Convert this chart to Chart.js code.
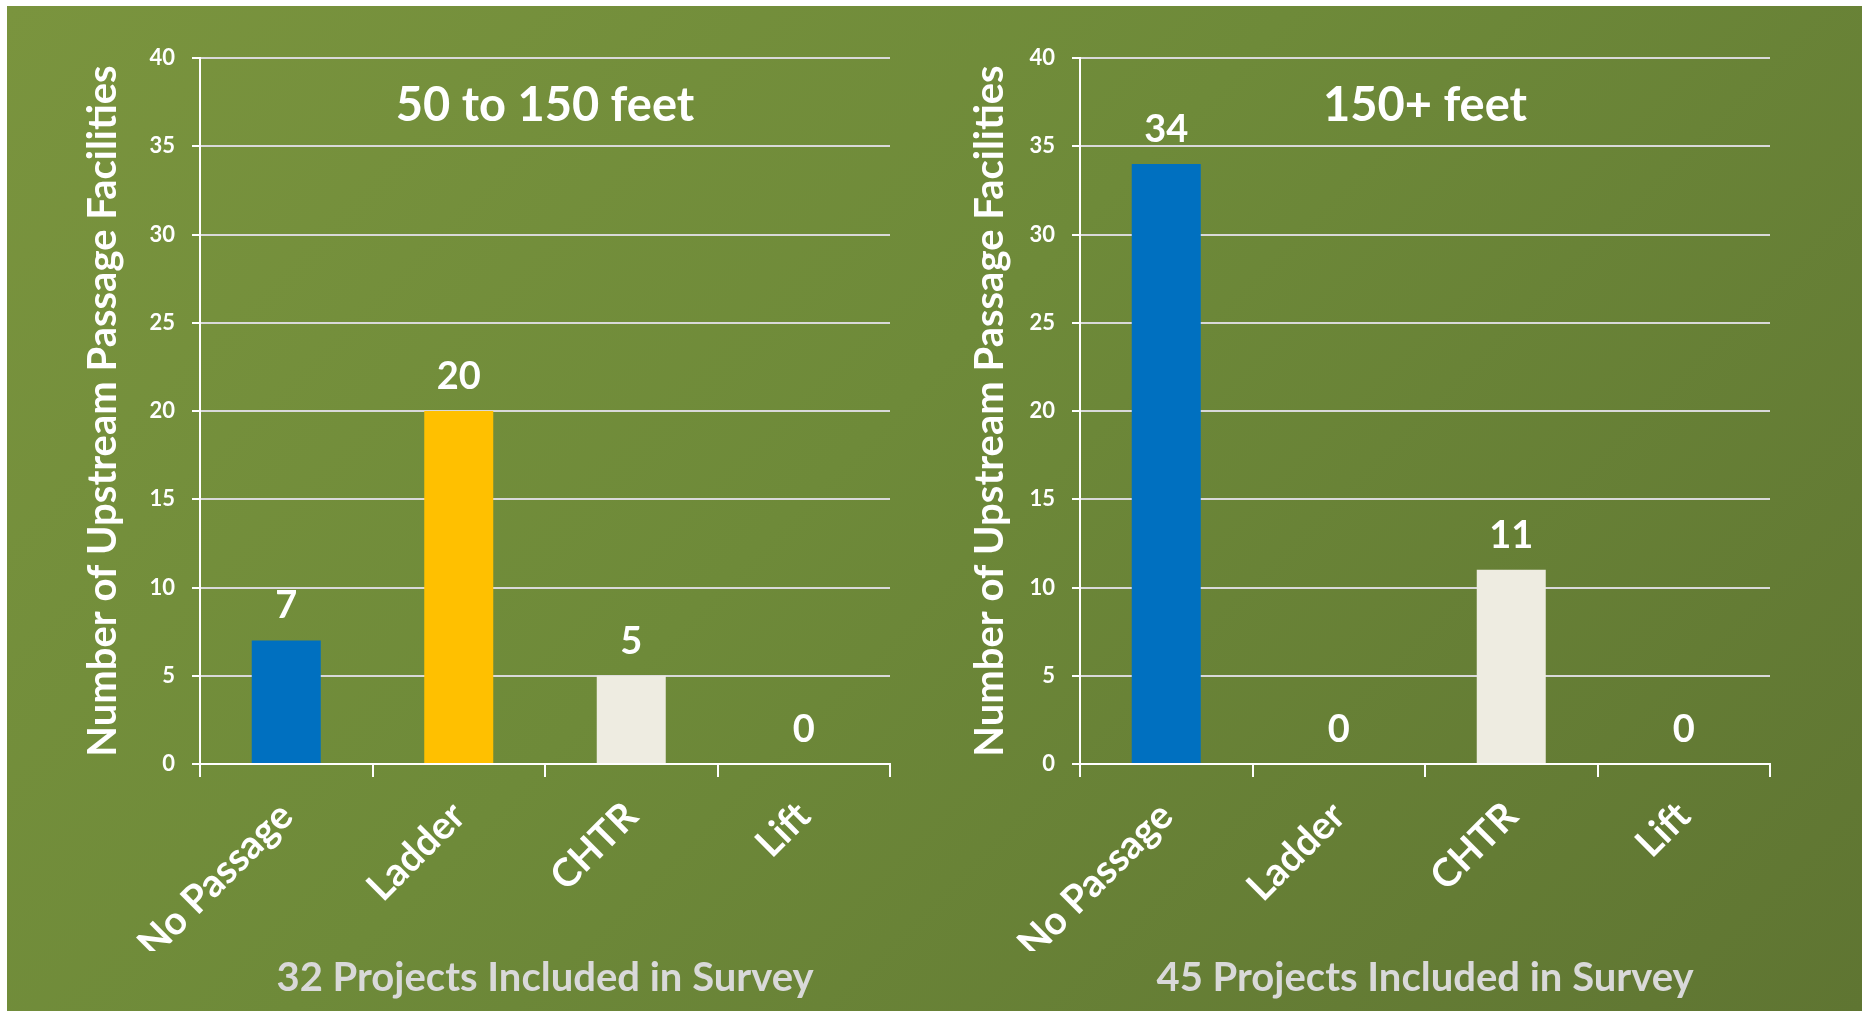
<!DOCTYPE html>
<html>
<head>
<meta charset="utf-8">
<script src="https://cdn.jsdelivr.net/npm/chart.js@4.4.1/dist/chart.umd.min.js"></script>
<style>
  body { margin: 0; background: #ffffff; width: 1865px; height: 1011px; overflow: hidden; }
  #panel {
    position: absolute; left: 7px; top: 6px; width: 1855px; height: 1005px;
    background: linear-gradient(135deg, #7a943e 0%, #6e8a39 45%, #5f7532 100%);
  }
  canvas { position: absolute; top: 0; }
  #left { left: 0; }
  #right { left: 880px; }
</style>
</head>
<body>
<div id="panel">
  <canvas id="left" width="930" height="1005"></canvas>
  <canvas id="right" width="930" height="1005"></canvas>
</div>
<script>
  const categories = ["No Passage", "Ladder", "CHTR", "Lift"];
  const counts50to150 = [7, 20, 5, 0];
  const counts150plus = [34, 0, 11, 0];
  const barColors = ["#0070c0", "#ffc000", "#eeece1", "#eeece1"];
  const yMin = 0, yMax = 40, yStep = 5;

  const FONT = "Lato";

  // value labels above each bar
  const valueLabels = {
    id: "valueLabels",
    afterDatasetsDraw(chart) {
      const ctx = chart.ctx;
      const meta = chart.getDatasetMeta(0);
      const data = chart.data.datasets[0].data;
      ctx.save();
      ctx.fillStyle = "#ffffff";
      ctx.font = "bold 38px " + FONT;
      ctx.textAlign = "center";
      ctx.textBaseline = "alphabetic";
      meta.data.forEach((bar, i) => {
        ctx.fillText(String(data[i]), bar.x, bar.y - 22);
      });
      ctx.restore();
    }
  };

  // heading inside the plot area and the footer line under the axis
  const headings = {
    id: "headings",
    afterDraw(chart, args, opts) {
      const ctx = chart.ctx;
      const a = chart.chartArea;
      const cx = (a.left + a.right) / 2;
      ctx.save();
      ctx.textAlign = "center";
      ctx.textBaseline = "middle";
      ctx.fillStyle = "#ffffff";
      ctx.font = "bold 47px " + FONT;
      ctx.fillText(opts.text, cx, 100);
      ctx.fillStyle = "#d9d9d9";
      ctx.font = "bold 40px " + FONT;
      ctx.fillText(opts.footer, cx, 972);
      ctx.restore();
    }
  };

  function makeChart(id, values, heading, footer, titlePad) {
    return new Chart(document.getElementById(id), {
      type: "bar",
      data: {
        labels: categories,
        datasets: [{
          data: values,
          backgroundColor: barColors,
          categoryPercentage: 1,
          barPercentage: 0.4
        }]
      },
      plugins: [valueLabels, headings],
      options: {
        responsive: false,
        animation: false,
        layout: { padding: { left: 0, right: 47, top: 52, bottom: 60 } },
        plugins: {
          legend: { display: false },
          tooltip: { enabled: false },
          headings: { text: heading, footer: footer }
        },
        scales: {
          x: {
            afterFit: s => { s.height = 187; },
            grid: {
              display: true, drawOnChartArea: false, drawTicks: true,
              tickLength: 13, color: "#ffffff", lineWidth: 2
            },
            border: { color: "#ffffff", width: 2 },
            ticks: {
              color: "#ffffff", maxRotation: 45, minRotation: 45, padding: 16,
              font: { family: FONT, size: 39, weight: "bold" }
            }
          },
          y: {
            min: yMin, max: yMax,
            afterFit: s => { s.width = 193; },
            grid: { color: "#d9d9d9", lineWidth: 2, tickLength: 8, tickColor: "#ffffff" },
            border: { color: "#ffffff", width: 2 },
            ticks: {
              stepSize: yStep, color: "#ffffff", padding: 17,
              font: { family: FONT, size: 22, weight: "bold" }
            },
            title: {
              display: true,
              text: "Number of Upstream Passage Facilities",
              color: "#ffffff",
              font: { family: FONT, size: 40, weight: "bold" },
              padding: { top: titlePad, bottom: 0 }
            }
          }
        }
      }
    });
  }

  makeChart("left", counts50to150, "50 to 150 feet", "32 Projects Included in Survey", 72);
  makeChart("right", counts150plus, "150+ feet", "45 Projects Included in Survey", 79);
</script>
</body>
</html>
